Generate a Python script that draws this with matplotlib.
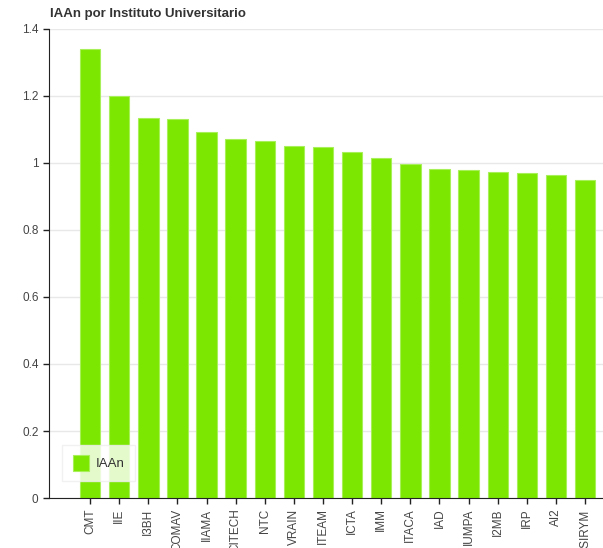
import matplotlib.pyplot as plt

plt.rcParams['font.family'] = ['Liberation Sans', 'DejaVu Sans']

institutos = ["CMT", "IIE", "I3BH", "COMAV", "IIAMA", "CITECH", "NTC", "VRAIN", "ITEAM",
              "ICTA", "IMM", "ITACA", "IAD", "IUMPA", "I2MB", "IRP", "AI2", "ISIRYM"]
iaan = [1.340, 1.201, 1.135, 1.130, 1.092, 1.071, 1.066, 1.050, 1.047,
        1.032, 1.016, 0.997, 0.981, 0.978, 0.972, 0.969, 0.964, 0.949]

fig = plt.figure(figsize=(6.03, 5.48), dpi=100)
ax = fig.add_axes([0.0813, 0.0912, 0.93, 0.856])

x = range(len(institutos))
ax.bar(x, iaan, width=0.7, color='#7ce700', edgecolor='#a8f05a', linewidth=0.8,
       label='IAAn', zorder=2)

ax.set_ylim(0, 1.4)
ax.set_xlim(-1.41, 17.85)
ax.set_yticks([0, 0.2, 0.4, 0.6, 0.8, 1.0, 1.2, 1.4])
ax.set_yticklabels(['0', '0.2', '0.4', '0.6', '0.8', '1', '1.2', '1.4'])
ax.set_xticks(list(x))
ax.set_xticklabels(institutos, rotation=90)
ax.tick_params(axis='both', labelsize=8.5, labelcolor='#444444', length=4, width=1, color='#222222')
ax.yaxis.grid(True, color='#e8e8e8', linewidth=1, zorder=0)
ax.set_axisbelow(True)

for s in ['top', 'right']:
    ax.spines[s].set_visible(False)
ax.spines['left'].set_color('#222222')
ax.spines['bottom'].set_color('#222222')

fig.text(0.083, 0.985, 'IAAn por Instituto Universitario', fontsize=9.5, fontweight='bold',
         color='#333333', ha='left', va='top')

leg = ax.legend(loc='lower left', bbox_to_anchor=(0.012, 0.022), fontsize=9.5,
                frameon=True, fancybox=False, handlelength=1.2, handleheight=1.4,
                handletextpad=0.5, borderpad=0.8)
leg.get_frame().set_edgecolor('#eeeeee')
leg.get_frame().set_linewidth(1)
for t in leg.get_texts():
    t.set_color('#333333')

fig.savefig('out.png', dpi=100)
